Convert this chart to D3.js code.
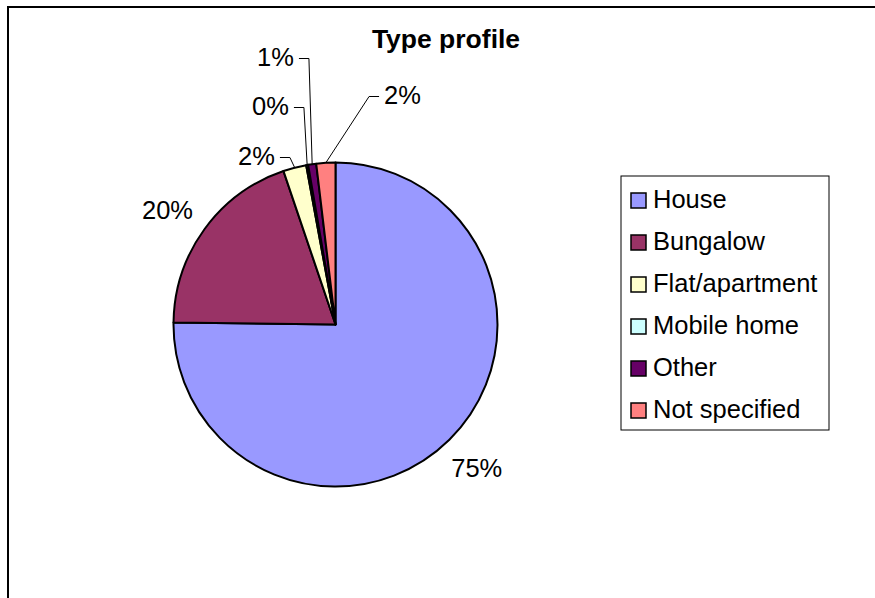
<!DOCTYPE html>
<html>
<head>
<meta charset="utf-8">
<script src="https://cdn.jsdelivr.net/npm/d3@7/dist/d3.min.js"></script>
<style>
  html, body { margin: 0; padding: 0; background: #fff; }
  svg { display: block; font-family: Arial, "Liberation Sans", sans-serif; }
</style>
</head>
<body>
<svg id="chart" width="875" height="598"></svg>
<script>
// ---- data ----
const title = "Type profile";
const categories = ["House", "Bungalow", "Flat/apartment", "Mobile home", "Other", "Not specified"];
const values = [75.2, 19.6, 2.3, 0.2, 0.8, 1.9];
const colors = ["#9999FF", "#993366", "#FFFFCC", "#CCFFFF", "#660066", "#FF8080"];

// ---- layout (not data) ----
const W = 875, H = 598;
const cx = 335.5, cy = 324.5, R = 162;
const labelRadius = 201;
// manual label placement for small slices (relative to pie centre); null = automatic
const labelPlace = [
  null,
  { x: -168, y: -115, side: "none" },
  { x: -79, y: -169, side: "left" },
  { x: -65, y: -219, side: "left" },
  { x: -60, y: -268, side: "left" },
  { x: 67, y: -230, side: "right" }
];

const svg = d3.select("#chart");

// outer frame (extends past right/bottom edges)
svg.append("rect")
  .attr("x", 8).attr("y", 7)
  .attr("width", W + 40).attr("height", H + 40)
  .attr("fill", "#fff").attr("stroke", "#000").attr("stroke-width", 2);

// title
svg.append("text")
  .attr("x", 446).attr("y", 48)
  .attr("text-anchor", "middle")
  .attr("font-size", 26.5).attr("font-weight", "bold")
  .text(title);

const total = d3.sum(values);
const pie = d3.pie().sort(null).value(d => d.v);
const arcs = pie(values.map((v, i) => ({ v, i })));
const arc = d3.arc().innerRadius(0).outerRadius(R);
const labelArc = d3.arc().innerRadius(labelRadius).outerRadius(labelRadius);
const edgeArc = d3.arc().innerRadius(R).outerRadius(R);

const g = svg.append("g").attr("transform", `translate(${cx},${cy})`);

g.selectAll("path.slice")
  .data(arcs)
  .join("path")
  .attr("class", "slice")
  .attr("d", arc)
  .attr("fill", d => colors[d.data.i])
  .attr("stroke", "#000")
  .attr("stroke-width", 2)
  .attr("stroke-linejoin", "round");

const fmt = v => Math.round(v / total * 100) + "%";
const fs = 25.5;

arcs.forEach(d => {
  const p = labelPlace[d.data.i];
  const txt = fmt(d.data.v);
  if (!p) {
    const [x, y] = labelArc.centroid(d);
    g.append("text")
      .attr("x", x).attr("y", y + fs * 0.36)
      .attr("text-anchor", "middle")
      .attr("font-size", fs)
      .text(txt);
  } else {
    const t = g.append("text")
      .attr("x", p.x).attr("y", p.y + fs * 0.36)
      .attr("text-anchor", "middle")
      .attr("font-size", fs)
      .text(txt);
    if (p.side === "none") return;
    const w = t.node().getComputedTextLength();
    const [ex, ey] = edgeArc.centroid(d);
    const sx = p.side === "left" ? p.x + w / 2 + 5 : p.x - w / 2 - 5;
    const kx = p.side === "left" ? sx + 10 : sx - 10;
    const ly = p.y + 2;
    g.append("path")
      .attr("d", `M${sx},${ly}L${kx},${ly}L${ex},${ey}`)
      .attr("fill", "none")
      .attr("stroke", "#000")
      .attr("stroke-width", 1);
  }
});

// legend
const lg = svg.append("g");
lg.append("rect")
  .attr("x", 621).attr("y", 176)
  .attr("width", 208).attr("height", 254)
  .attr("fill", "#fff").attr("stroke", "#000").attr("stroke-width", 1);

const rowY = d3.scalePoint().domain(categories).range([200, 410]);
const items = lg.selectAll("g.item").data(categories).join("g").attr("class", "item");
items.append("rect")
  .attr("x", 631).attr("y", d => rowY(d) - 7)
  .attr("width", 15).attr("height", 15)
  .attr("fill", (d, i) => colors[i])
  .attr("stroke", "#000").attr("stroke-width", 1.5);
items.append("text")
  .attr("x", 653).attr("y", d => rowY(d) + 8)
  .attr("font-size", fs)
  .text(d => d);
</script>
</body>
</html>
